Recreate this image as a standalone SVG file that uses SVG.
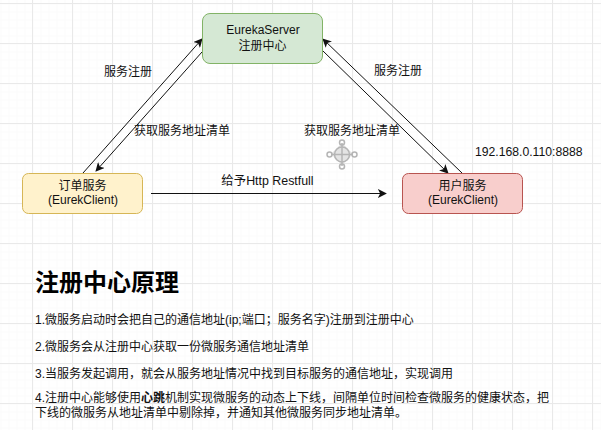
<svg xmlns="http://www.w3.org/2000/svg" width="601" height="430" viewBox="0 0 601 430">
<defs>
<style>
text{font-family:"Liberation Sans","Noto Sans CJK SC",sans-serif;font-size:12px;fill:#111}
.c{text-anchor:middle}
.node{stroke-width:1}
.l{fill:none;stroke:#111;stroke-width:1}
.grid{stroke:#e9e9e9;stroke-width:1}
.ctl{fill:none;stroke:#b5b5b5;stroke-width:1.500}
</style>
<marker id="a" viewBox="0 0 10 10" refX="9" refY="5" markerWidth="9" markerHeight="9" orient="auto" markerUnits="userSpaceOnUse"><path d="M0 0L10 5L0 10L2.500 5Z" fill="#111"/></marker>
<pattern id="minor" width="8" height="8" patternUnits="userSpaceOnUse" x="0.500" y="3.500"><path d="M0 0V8M0 0H8" stroke="#f7f7f7" fill="none"/></pattern>
</defs>
<rect width="601" height="430" fill="#fff"/>
<g id="grid" class="grid">
<rect width="601" height="430" fill="url(#minor)" stroke="none"/>
<path d="M32.500 0V430M72.500 0V430M112.500 0V430M152.500 0V430M192.500 0V430M232.500 0V430M272.500 0V430M312.500 0V430M352.500 0V430M392.500 0V430M432.500 0V430M472.500 0V430M512.500 0V430M552.500 0V430M592.500 0V430M0 3.500H601M0 43.500H601M0 83.500H601M0 123.500H601M0 163.500H601M0 203.500H601M0 243.500H601M0 283.500H601M0 323.500H601M0 363.500H601M0 403.500H601"/>
</g>
<g id="connectors">
<path class="l" d="M83 173L202 39" marker-end="url(#a)"/>
<path class="l" d="M202 52L96 171" marker-end="url(#a)"/>
<path class="l" d="M462 173L323 39" marker-end="url(#a)"/>
<path class="l" d="M323 51L448 173" marker-end="url(#a)"/>
<path class="l" d="M151 193.500H386" marker-end="url(#a)"/>
</g>
<g id="eureka-server"><rect class="node" x="202.500" y="13.500" width="120" height="50" rx="7.500" fill="#d5e8d4" stroke="#82b366"/><text class="c" x="263" y="34">EurekaServer</text><text class="c" x="262.500" y="49.500">注册中心</text></g>
<g id="order-service"><rect class="node" x="22.500" y="173.500" width="120" height="40" rx="6" fill="#fff2cc" stroke="#d6b656"/><text class="c" x="82.500" y="189.500">订单服务</text><text class="c" x="83" y="203.500">(EurekClient)</text></g>
<g id="user-service"><rect class="node" x="402.500" y="173.500" width="120" height="40" rx="6" fill="#f8cecc" stroke="#b85450"/><text class="c" x="462.500" y="189.500">用户服务</text><text class="c" x="463" y="203.500">(EurekClient)</text></g>
<g id="labels">
<text class="c" x="128" y="75.500">服务注册</text>
<text class="c" x="398" y="74.500">服务注册</text>
<text class="c" x="182" y="135">获取服务地址清单</text>
<text class="c" x="352" y="135">获取服务地址清单</text>
<text class="c" x="267.500" y="185" style="font-size:12.400px">给予Http Restfull</text>
<text x="475" y="156" style="font-size:12.200px">192.168.0.110:8888</text>
</g>
<g id="move-icon" class="ctl">
<path d="M342 143L353 154L342 165L331 154Z" fill="#e4e4e4" stroke="none"/>
<circle cx="342" cy="154.500" r="7.500"/><path d="M342 143V166M331 154.500H353"/><circle cx="342" cy="142.500" r="2.500"/><circle cx="342" cy="166.500" r="2.500"/><circle cx="329.500" cy="154.500" r="2.500"/><circle cx="354.500" cy="154.500" r="2.500"/>
</g>
<g id="notes">
<text x="35" y="290.500" style="font-size:24px;font-weight:700;fill:#000">注册中心原理</text>
<text x="35" y="323.500">1.微服务启动时会把自己的通信地址(ip;端口；服务名字)注册到注册中心</text>
<text x="35" y="350.500">2.微服务会从注册中心获取一份微服务通信地址清单</text>
<text x="35" y="377.500">3.当服务发起调用，就会从服务地址情况中找到目标服务的通信地址，实现调用</text>
<text x="35" y="402">4.注册中心能够使用<tspan font-weight="700">心跳</tspan>机制实现微服务的动态上下线，间隔单位时间检查微服务的健康状态，把</text>
<text x="35" y="417">下线的微服务从地址清单中剔除掉，并通知其他微服务同步地址清单。</text>
</g>
</svg>
